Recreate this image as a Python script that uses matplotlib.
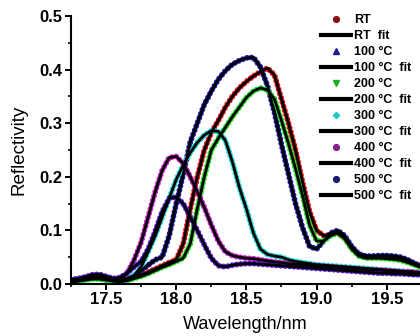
import numpy as np
import matplotlib
matplotlib.use("Agg")
import matplotlib.pyplot as plt
from matplotlib.lines import Line2D

plt.rcParams['font.family'] = ['Liberation Sans', 'DejaVu Sans']

wavelength = np.round(np.arange(17.25, 19.7501, 0.05), 2)

rt = [0.004, 0.006, 0.009, 0.012, 0.012, 0.010, 0.007, 0.006, 0.008, 0.012,
      0.017, 0.022, 0.028, 0.034, 0.040, 0.045, 0.075, 0.140, 0.200, 0.250,
      0.283, 0.305, 0.330, 0.350, 0.366, 0.378, 0.388, 0.396, 0.403, 0.390,
      0.345, 0.300, 0.250, 0.190, 0.135, 0.100, 0.090, 0.092, 0.095, 0.085,
      0.068, 0.055, 0.050, 0.050, 0.050, 0.050, 0.050, 0.047, 0.043, 0.038,
      0.033]
c100 = [0.005, 0.008, 0.012, 0.017, 0.018, 0.014, 0.010, 0.008, 0.010, 0.015,
        0.025, 0.035, 0.045, 0.050, 0.090, 0.150, 0.205, 0.265, 0.300, 0.335,
        0.360, 0.382, 0.398, 0.410, 0.417, 0.422, 0.423, 0.405, 0.370, 0.320,
        0.260, 0.205, 0.150, 0.105, 0.070, 0.065, 0.080, 0.095, 0.100, 0.090,
        0.070, 0.056, 0.052, 0.052, 0.053, 0.053, 0.052, 0.050, 0.045, 0.038,
        0.032]
c200 = [0.003, 0.005, 0.007, 0.009, 0.009, 0.007, 0.005, 0.004, 0.006, 0.010,
        0.014, 0.019, 0.025, 0.031, 0.036, 0.042, 0.048, 0.075, 0.140, 0.200,
        0.250, 0.272, 0.292, 0.312, 0.330, 0.348, 0.360, 0.366, 0.362, 0.345,
        0.305, 0.262, 0.215, 0.165, 0.110, 0.080, 0.080, 0.090, 0.095, 0.085,
        0.065, 0.052, 0.048, 0.048, 0.048, 0.047, 0.046, 0.044, 0.040, 0.035,
        0.030]
c300 = [0.004, 0.006, 0.009, 0.012, 0.012, 0.010, 0.007, 0.006, 0.010, 0.016,
        0.032, 0.060, 0.090, 0.125, 0.160, 0.195, 0.222, 0.245, 0.264, 0.278,
        0.286, 0.285, 0.268, 0.228, 0.180, 0.140, 0.095, 0.065, 0.055, 0.052,
        0.050, 0.045, 0.042, 0.040, 0.038, 0.036, 0.035, 0.034, 0.033, 0.032,
        0.031, 0.030, 0.029, 0.028, 0.027, 0.026, 0.025, 0.024, 0.023, 0.022,
        0.021]
c400 = [0.005, 0.008, 0.012, 0.016, 0.016, 0.013, 0.010, 0.008, 0.020, 0.045,
        0.078, 0.125, 0.172, 0.212, 0.236, 0.238, 0.225, 0.200, 0.172, 0.143,
        0.110, 0.080, 0.060, 0.053, 0.050, 0.048, 0.047, 0.045, 0.043, 0.041,
        0.040, 0.038, 0.037, 0.036, 0.035, 0.034, 0.033, 0.032, 0.031, 0.030,
        0.029, 0.028, 0.027, 0.026, 0.026, 0.025, 0.024, 0.023, 0.023, 0.022,
        0.021]
c500 = [0.008, 0.010, 0.013, 0.016, 0.016, 0.013, 0.010, 0.012, 0.020, 0.032,
        0.042, 0.065, 0.098, 0.135, 0.160, 0.162, 0.150, 0.125, 0.100, 0.073,
        0.048, 0.034, 0.032, 0.035, 0.037, 0.038, 0.038, 0.037, 0.036, 0.035,
        0.034, 0.033, 0.032, 0.031, 0.030, 0.029, 0.028, 0.027, 0.026, 0.025,
        0.024, 0.023, 0.022, 0.021, 0.020, 0.020, 0.019, 0.019, 0.018, 0.017,
        0.017]

series_labels = ['RT', '100 \u00b0C', '200 \u00b0C', '300 \u00b0C', '400 \u00b0C', '500 \u00b0C']
series_values = [rt, c100, c200, c300, c400, c500]
series_colors = ['#dd1010', '#1c1ca0', '#22e022', '#22d8d8', '#cc22cc', '#5a18d0']
legend_colors = ['#8b1010', '#1c1c96', '#22aa22', '#22c8c8', '#8b208b', '#1c1c70']
series_markers = ['o', '^', 'v', 'D', 'o', 'o']
marker_sizes = [4.2, 4.5, 4.5, 3.2, 4.2, 4.2]

x_ticks = [17.5, 18.0, 18.5, 19.0, 19.5]
y_ticks = [0.0, 0.1, 0.2, 0.3, 0.4, 0.5]

fig = plt.figure(figsize=(4.2, 3.36), dpi=100)
ax = fig.add_axes([0.169, 0.155, 0.831, 0.797])

for vals, col in zip(series_values, series_colors):
    ax.plot(wavelength, vals, color=col, lw=4.2, linestyle=(0, (0.01, 0.75)),
            dash_capstyle='round', zorder=2)
for vals in series_values:
    ax.plot(wavelength, vals, color='black', lw=2.0, zorder=3)

ax.set_xlim(17.253, 19.737)
ax.set_ylim(0.0, 0.5)
ax.set_xticks(x_ticks)
ax.set_yticks(y_ticks)
ax.set_xticklabels([f'{t:.1f}' for t in x_ticks])
ax.set_yticklabels([f'{t:.1f}' for t in y_ticks])
ax.set_xticks(np.arange(17.25, 19.74, 0.25), minor=True)
ax.set_yticks(np.arange(0.0, 0.5, 0.05), minor=True)
ax.tick_params(which='major', direction='out', length=4, width=1.4, labelsize=12, pad=2)
ax.tick_params(which='minor', direction='out', length=2.5, width=1.2)
for s in ['top', 'right']:
    ax.spines[s].set_visible(False)
for s in ['left', 'bottom']:
    ax.spines[s].set_linewidth(1.5)
for lab in ax.get_xticklabels() + ax.get_yticklabels():
    lab.set_fontweight('bold')

ax.set_xlabel('Wavelength/nm', fontsize=13, labelpad=6)
ax.set_ylabel('Reflectivity', fontsize=13.5, labelpad=9)

handles = []
labels = []
for lab, col, mk, ms in zip(series_labels, legend_colors, series_markers, marker_sizes):
    handles.append(Line2D([], [], linestyle='none', marker=mk, color=col,
                          markersize=ms))
    labels.append(lab)
    handles.append(Line2D([], [], color='black', lw=3))
    labels.append(lab + '  fit')
leg = fig.legend(handles, labels, loc='upper left', bbox_to_anchor=(0.745, 0.982),
                 frameon=False, handlelength=2.4, handletextpad=0.25,
                 labelspacing=0.32, borderaxespad=0.25,
                 prop={'weight': 'bold', 'size': 9})

fig.savefig('out.png', dpi=100)
